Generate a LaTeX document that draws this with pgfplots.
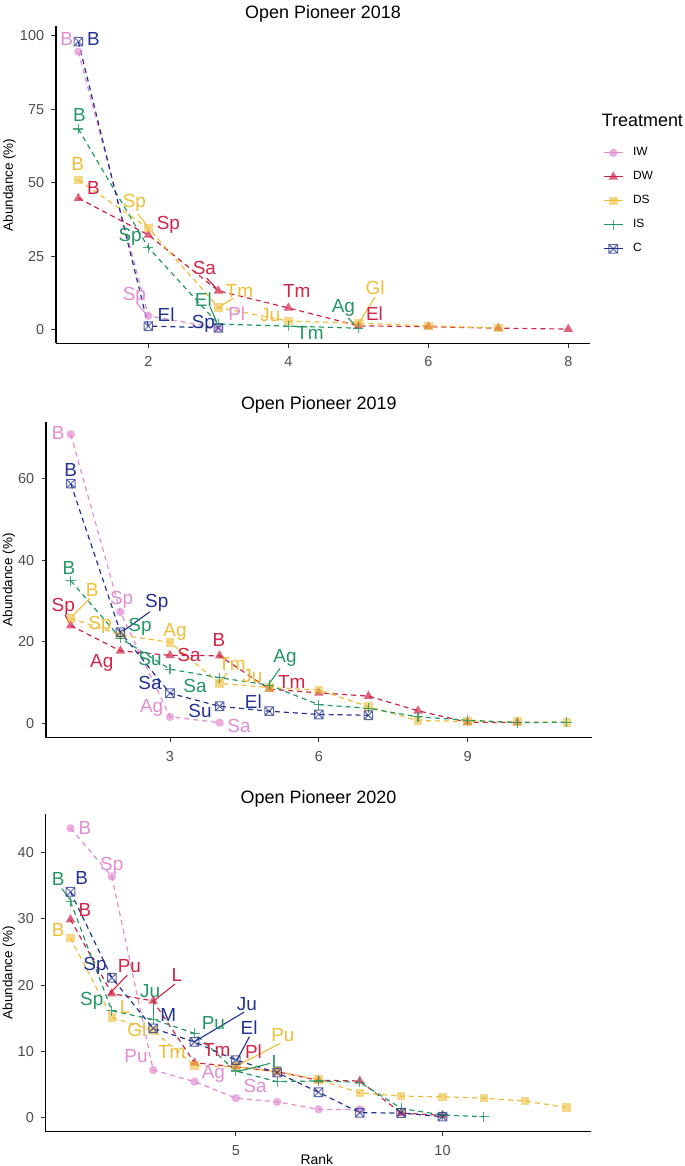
\documentclass[border=0pt]{standalone}
\usepackage{fontspec}
\setmainfont{Liberation Sans}
\usepackage{pgfplots}
\pgfplotsset{compat=1.18}

\definecolor{cIW}{RGB}{226,140,210}
\definecolor{cDW}{RGB}{208,35,70}
\definecolor{cDS}{RGB}{238,190,55}
\definecolor{cIS}{RGB}{35,150,100}
\definecolor{cC}{RGB}{35,50,145}
\definecolor{tickgray}{RGB}{77,77,77}

\pgfdeclareplotmark{sqx}{%
 \pgfpathrectangle{\pgfqpoint{-\pgfplotmarksize}{-\pgfplotmarksize}}{\pgfqpoint{2\pgfplotmarksize}{2\pgfplotmarksize}}%
 \pgfpathmoveto{\pgfqpoint{-\pgfplotmarksize}{-\pgfplotmarksize}}%
 \pgfpathlineto{\pgfqpoint{\pgfplotmarksize}{\pgfplotmarksize}}%
 \pgfpathmoveto{\pgfqpoint{-\pgfplotmarksize}{\pgfplotmarksize}}%
 \pgfpathlineto{\pgfqpoint{\pgfplotmarksize}{-\pgfplotmarksize}}%
 \pgfusepathqstroke}

\newcommand{\labfont}{\fontsize{19}{21}\selectfont}

\tikzset{
  lb/.style={font=\labfont, inner sep=0pt, anchor=center},
  sg/.style={line width=1.1bp, solid},
}

\pgfplotsset{
  panel/.style={scale only axis, anchor=south west,
    axis lines=left, axis line style={-, line width=1.1bp, black},
    tick align=outside, major tick length=4.5bp,
    tick style={line width=1bp, black!80},
    ticklabel style={font=\fontsize{14.5}{16}\selectfont, text=tickgray, inner sep=0pt},
    xticklabel shift=8.7bp, yticklabel shift=7.2bp,
    /pgf/number format/assume math mode=true,
    clip=false,
    ylabel={Abundance (\%)},
    ylabel style={font=\fontsize{13.5}{15}\selectfont, anchor=center},
    every axis title shift=0pt,
    title style={font=\fontsize{18}{20}\selectfont, anchor=base, inner sep=0pt},
  },
  sIW/.style={color=cIW, line width=1.2bp, dash pattern=on 5bp off 4bp, mark=*, mark size=4.2bp, mark options={solid, fill=cIW, fill opacity=0.7, draw opacity=0}},
  sDW/.style={color=cDW, line width=1.2bp, dash pattern=on 5bp off 4bp, mark=triangle*, mark size=5.5bp, mark options={solid, fill=cDW, fill opacity=0.7, draw opacity=0}},
  sDS/.style={color=cDS, line width=1.2bp, dash pattern=on 5bp off 4bp, mark=square*, mark size=4.3bp, mark options={solid, fill=cDS, fill opacity=0.6, draw opacity=0}},
  sIS/.style={color=cIS, line width=1.2bp, dash pattern=on 5bp off 4bp, mark=+, mark size=5bp, mark options={solid, line width=1.1bp, draw opacity=0.8}},
  sC/.style={color=cC, line width=1.2bp, dash pattern=on 5bp off 4bp, mark=sqx, mark size=4.3bp, mark options={solid, line width=1bp, draw opacity=0.75}},
}

\begin{document}
\begin{tikzpicture}
\useasboundingbox (0,0) rectangle (685bp,1166bp);

% ---------------- Panel 1: 2018 ----------------
\begin{axis}[panel, at={(56bp,822.5bp)}, width=534bp, height=317.1bp,
  xmin=0.68, xmax=8.31, ymin=-4.6, ymax=103.2,
  xtick={2,4,6,8}, ytick={0,25,50,75,100},
  title={Open Pioneer 2018}, title style={at={(axis description cs:0.5,1.0255)}},
  ylabel style={at={(axis description cs:-0.0871,0.5)}},
  legend style={draw=none, fill=none, at={(axis description cs:1.0243,0.6207)}, anchor=north west,
    inner sep=0pt, row sep=12bp, font=\fontsize{12}{14}\selectfont,
    nodes={inner sep=0pt, text height=9bp, text depth=3bp},
    /tikz/column 1/.style={column sep=9.7bp}},
  legend cell align=left,
  legend image code/.code={\draw[mark repeat=2, mark phase=2, #1, solid] plot coordinates {(0bp,0bp) (9.5bp,0bp) (19bp,0bp)};},
]
\addplot[sIW] coordinates {(1,94.6)(2,4.8)(3,0.6)};
\addlegendentry{IW}
\addplot[sDW] coordinates {(1,44.8)(2,32.3)(3,13.3)(4,7.5)(5,1.4)(6,1.1)(7,0.6)(8,0.3)};
\addlegendentry{DW}
\addplot[sDS] coordinates {(1,51)(2,34.6)(3,7.7)(4,3)(5,2.3)(6,1.4)(7,0.6)};
\addlegendentry{DS}
\addplot[sIS] coordinates {(1,68.3)(2,28)(3,2)(4,1.3)(5,0.6)};
\addlegendentry{IS}
\addplot[sC] coordinates {(1,98.0)(2,1.3)(3,0.7)};
\addlegendentry{C}

\draw[sg,cDS] (axis cs:1.85,39.5) -- (axis cs:1.98,35.5);
\draw[sg,cDW] (axis cs:2.834,17.6) -- (axis cs:2.97,14.2);
\draw[sg,cIW] (axis cs:1.834,9.1) -- (axis cs:1.96,5.6);
\draw[sg,cDS] (axis cs:3.214,10.8) -- (axis cs:3.04,8.3);
\draw[sg,cIS] (axis cs:2.88,7.9) -- (axis cs:2.98,2.5);
\draw[sg,cIS] (axis cs:4.853,4.1) -- (axis cs:4.98,1.0);
\draw[sg,cDS] (axis cs:5.24,11.2) -- (axis cs:5.02,2.8);

\node[lb,text=cIW] at (axis cs:0.834,98.8) {B};
\node[lb,text=cC] at (axis cs:1.214,98.8) {B};
\node[lb,text=cIS] at (axis cs:1.014,73.1) {B};
\node[lb,text=cDS] at (axis cs:0.99,56.3) {B};
\node[lb,text=cDW] at (axis cs:1.214,48.2) {B};
\node[lb,text=cDS] at (axis cs:1.8,43.1) {Sp};
\node[lb,text=cDW] at (axis cs:2.286,35.7) {Sp};
\node[lb,text=cIS] at (axis cs:1.739,31.5) {Sp};
\node[lb,text=cDW] at (axis cs:2.8,21.0) {Sa};
\node[lb,text=cIW] at (axis cs:1.8,11.6) {Sp};
\node[lb,text=cC] at (axis cs:2.253,5.1) {El};
\node[lb,text=cDS] at (axis cs:3.3,13.4) {Tm};
\node[lb,text=cIS] at (axis cs:2.786,10.2) {El};
\node[lb,text=cC] at (axis cs:2.786,2.0) {Sp};
\node[lb,text=cIW] at (axis cs:3.263,5.4) {Pl};
\node[lb,text=cDS] at (axis cs:3.74,5.1) {Ju};
\node[lb,text=cDW] at (axis cs:4.12,13.4) {Tm};
\node[lb,text=cIS] at (axis cs:4.31,-0.9) {Tm};
\node[lb,text=cIS] at (axis cs:4.786,7.4) {Ag};
\node[lb,text=cDS] at (axis cs:5.24,14.2) {Gl};
\node[lb,text=cDW] at (axis cs:5.23,5.7) {El};
\end{axis}

% ---------------- Panel 2: 2019 ----------------
\begin{axis}[panel, at={(46bp,428.3bp)}, width=545.6bp, height=316bp,
  xmin=0.5, xmax=11.5, ymin=-3.5, ymax=74,
  xtick={3,6,9}, ytick={0,20,40,60},
  title={Open Pioneer 2019}, title style={at={(axis description cs:0.5,1.037)}},
  ylabel style={at={(axis description cs:-0.0682,0.5)}},
]
\addplot[sIW] coordinates {(1,70.9)(2,27.3)(3,1.6)(4,0.2)};
\addplot[sDW] coordinates {(1,24)(2,17.8)(3,16.7)(4,16.6)(5,8.4)(6,7.5)(7,6.7)(8,3.1)(9,0.3)(10,0.2)};
\addplot[sDS] coordinates {(1,25.8)(2,21.7)(3,19.9)(4,9.8)(5,8.8)(6,8.2)(7,4.1)(8,0.7)(9,0.5)(10,0.4)(11,0.3)};
\addplot[sIS] coordinates {(1,35)(2,20.9)(3,13.3)(4,11.2)(5,9.4)(6,4.6)(7,3.7)(8,1.6)(9,0.8)(10,0.2)(11,0.3)};
\addplot[sC] coordinates {(1,58.8)(2,22.4)(3,7.4)(4,4.2)(5,3.0)(6,2.2)(7,2.0)};

\draw[sg,cDS] (axis cs:1.387,30.7) -- (axis cs:1.03,26.3);
\draw[sg,cDW] (axis cs:0.883,26.6) -- (axis cs:0.97,24.6);
\draw[sg,cC] (axis cs:2.597,27.4) -- (axis cs:2.05,22.6);
\draw[sg,cDS] (axis cs:4.143,12.3) -- (axis cs:4.01,10.2);
\draw[sg,cIS] (axis cs:5.218,13.5) -- (axis cs:4.98,9.4);

\node[lb,text=cIW] at (axis cs:0.748,71.25) {B};
\node[lb,text=cC] at (axis cs:1.0,62.06) {B};
\node[lb,text=cIS] at (axis cs:0.964,38.1) {B};
\node[lb,text=cDS] at (axis cs:1.433,32.75) {B};
\node[lb,text=cDW] at (axis cs:0.849,28.65) {Sp};
\node[lb,text=cIW] at (axis cs:2.026,30.3) {Sp};
\node[lb,text=cC] at (axis cs:2.732,29.5) {Sp};
\node[lb,text=cDS] at (axis cs:1.589,24.15) {Sp};
\node[lb,text=cIS] at (axis cs:2.395,23.7) {Sp};
\node[lb,text=cDS] at (axis cs:3.1,22.5) {Ag};
\node[lb,text=cDW] at (axis cs:3.988,20.5) {B};
\node[lb,text=cDW] at (axis cs:1.623,14.74) {Ag};
\node[lb,text=cIS] at (axis cs:2.597,15.7) {Su};
\node[lb,text=cDW] at (axis cs:3.383,16.8) {Sa};
\node[lb,text=cDS] at (axis cs:4.25,14.5) {Tm};
\node[lb,text=cIS] at (axis cs:5.319,16.0) {Ag};
\node[lb,text=cDS] at (axis cs:4.66,11.6) {Ju};
\node[lb,text=cDW] at (axis cs:5.454,10.2) {Tm};
\node[lb,text=cC] at (axis cs:2.597,9.8) {Sa};
\node[lb,text=cIS] at (axis cs:3.504,9.2) {Sa};
\node[lb,text=cC] at (axis cs:4.68,5.3) {El};
\node[lb,text=cIW] at (axis cs:2.631,3.7) {Ag};
\node[lb,text=cC] at (axis cs:3.605,3.0) {Su};
\node[lb,text=cIW] at (axis cs:4.391,-0.6) {Sa};
\end{axis}

% ---------------- Panel 3: 2020 ----------------
\begin{axis}[panel, at={(45.7bp,34.1bp)}, width=545.6bp, height=318.2bp,
  xmin=0.4, xmax=13.6, ymin=-2.2, ymax=45.9,
  xtick={5,10}, ytick={0,10,20,30,40},
  title={Open Pioneer 2020}, title style={at={(axis description cs:0.5,1.0327)}},
  ylabel style={at={(axis description cs:-0.0676,0.5)}},
  xlabel={Rank}, xlabel style={font=\fontsize{14}{16}\selectfont, at={(axis description cs:0.497,-0.0883)}, anchor=center},
]
\addplot[sIW] coordinates {(1,43.7)(2,36.4)(3,7.15)(4,5.4)(5,2.9)(6,2.35)(7,1.2)(8,1.2)};
\addplot[sDW] coordinates {(1,29.9)(2,18.7)(3,17.6)(4,8.25)(5,7.65)(6,6.9)(7,5.6)(8,5.5)(9,0.65)(10,0.3)};
\addplot[sDS] coordinates {(1,27.1)(2,15.1)(3,13.1)(4,7.8)(5,7.65)(6,6.9)(7,5.7)(8,3.7)(9,3.2)(10,3.1)(11,2.9)(12,2.45)(13,1.5)};
\addplot[sIS] coordinates {(1,32.6)(2,16.1)(3,14.8)(4,12.7)(5,7.0)(6,5.4)(7,5.5)(8,5.3)(9,1.35)(10,0.35)(11,0.1)};
\addplot[sC] coordinates {(1,34.1)(2,21.1)(3,13.45)(4,11.4)(5,8.66)(6,6.75)(7,3.8)(8,0.7)(9,0.65)(10,0.1)};

\draw[sg,cIS] (axis cs:0.787,34.6) -- (axis cs:1.03,32.6);
\draw[sg,cDW] (axis cs:2.375,21.5) -- (axis cs:1.915,18.5);
\draw[sg,cDW] (axis cs:3.53,20.15) -- (axis cs:2.99,17.5);
\draw[sg,cIS] (axis cs:3.0,17.9) -- (axis cs:3.0,15.2);
\draw[sg,cC] (axis cs:5.2,15.9) -- (axis cs:3.99,11.4);
\draw[sg,cC] (axis cs:5.329,12.2) -- (axis cs:5.02,8.55);
\draw[sg,cDS] (axis cs:6.073,11.2) -- (axis cs:5.02,7.75);
\draw[sg,cIS] (axis cs:5.83,8.16) -- (axis cs:5.02,6.9);

\node[lb,text=cIW] at (axis cs:1.351,43.78) {B};
\node[lb,text=cIW] at (axis cs:1.998,38.0) {Sp};
\node[lb,text=cIS] at (axis cs:0.705,36.0) {B};
\node[lb,text=cC] at (axis cs:1.271,36.2) {B};
\node[lb,text=cDW] at (axis cs:1.351,31.4) {B};
\node[lb,text=cDS] at (axis cs:0.705,28.3) {B};
\node[lb,text=cC] at (axis cs:1.593,22.9) {Sp};
\node[lb,text=cDW] at (axis cs:2.424,22.9) {Pu};
\node[lb,text=cDW] at (axis cs:3.571,21.5) {L};
\node[lb,text=cIS] at (axis cs:2.925,19.1) {Ju};
\node[lb,text=cIS] at (axis cs:1.513,17.6) {Sp};
\node[lb,text=cDS] at (axis cs:2.32,16.7) {L};
\node[lb,text=cC] at (axis cs:3.368,15.5) {M};
\node[lb,text=cDS] at (axis cs:2.603,13.3) {Gl};
\node[lb,text=cIS] at (axis cs:4.458,14.3) {Pu};
\node[lb,text=cC] at (axis cs:5.266,17.1) {Ju};
\node[lb,text=cC] at (axis cs:5.322,13.6) {El};
\node[lb,text=cDS] at (axis cs:6.138,12.5) {Pu};
\node[lb,text=cDW] at (axis cs:4.54,10.2) {Tm};
\node[lb,text=cDW] at (axis cs:5.426,9.9) {Pl};
\node[lb,text=cDS] at (axis cs:3.45,9.9) {Tm};
\node[lb,text=cIS] at (axis cs:5.993,8.4) {L};
\node[lb,text=cIW] at (axis cs:2.586,9.2) {Pu};
\node[lb,text=cIW] at (axis cs:4.458,6.5) {Ag};
\node[lb,text=cIW] at (axis cs:5.467,4.7) {Sa};
\end{axis}

\node[anchor=base west, font=\fontsize{18}{20}\selectfont, inner sep=0pt] at (601.7bp,1039.3bp) {Treatment};
\end{tikzpicture}
\end{document}
